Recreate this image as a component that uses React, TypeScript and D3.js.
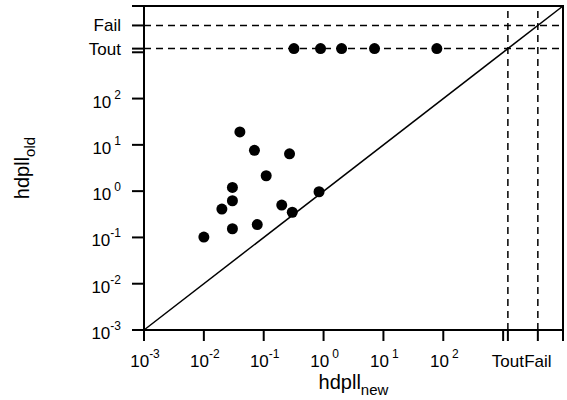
import React, { useEffect, useRef } from 'react';
import * as d3 from 'd3';

// decades shown with a label on both axes
const exps = [-3, -2, -1, 0, 1, 2];
const TOUT = 1200;
const FAIL = 3800;

// solved instances (new vs old)
const hdpllNew = [0.040, 0.070, 0.27, 0.11, 0.030, 0.030, 0.020, 0.20, 0.30, 0.84, 0.078, 0.030, 0.010];
const hdpllOld = [19, 7.6, 6.4, 2.15, 1.2, 0.62, 0.41, 0.50, 0.35, 0.97, 0.19, 0.154, 0.102];
// old timed out, new solved
const timeoutNew = [0.32, 0.89, 2.0, 7.1, 78];

const App = () => {
  const svgRef = useRef(null);

  useEffect(() => {
    const font = 'Liberation Sans, Arial, Helvetica, sans-serif';
    const svg = d3.select(svgRef.current);
    svg.selectAll('*').remove();
    svg.attr('width', 567).attr('height', 400).style('font-family', font);

    const x = d3.scaleLog().domain([1e-3, 1e4]).range([144, 563]);
    const y = d3.scaleLog().domain([1e-3, 1e4]).range([330, 6]);
    const x0 = x(1e-3), x1 = x(1e4), y0 = y(1e-3), y1 = y(1e4);

    // reference lines
    const dash = '7,5';
    [TOUT, FAIL].forEach(v => {
      svg.append('line').attr('x1', x0).attr('x2', x1).attr('y1', y(v)).attr('y2', y(v))
        .attr('stroke', '#000').attr('stroke-width', 1.5).attr('stroke-dasharray', dash);
      svg.append('line').attr('x1', x(v)).attr('x2', x(v)).attr('y1', y0).attr('y2', y1)
        .attr('stroke', '#000').attr('stroke-width', 1.5).attr('stroke-dasharray', dash);
    });

    svg.append('line').attr('x1', x(1e-3)).attr('y1', y(1e-3)).attr('x2', x(1e4)).attr('y2', y(1e4))
      .attr('stroke', '#000').attr('stroke-width', 1.5);

    // frame
    svg.append('rect').attr('x', x0).attr('y', y1).attr('width', x1 - x0).attr('height', y0 - y1)
      .attr('fill', 'none').attr('stroke', '#000').attr('stroke-width', 2);

    // ticks
    const tickVals = [...exps.map(e => Math.pow(10, e)), 1e3, TOUT, FAIL, 1e4];
    tickVals.forEach(v => {
      svg.append('line').attr('x1', x0 - 12).attr('x2', x0).attr('y1', y(v)).attr('y2', y(v))
        .attr('stroke', '#000').attr('stroke-width', 2);
      svg.append('line').attr('x1', x(v)).attr('x2', x(v)).attr('y1', y0).attr('y2', y0 + 11)
        .attr('stroke', '#000').attr('stroke-width', 2);
    });

    // tick labels
    const power = (t, e) => {
      t.append('tspan').text('10');
      t.append('tspan').attr('font-size', 12).attr('dy', -9).attr('dx', e >= 0 ? 3 : 0).text(`${e}`);
    };
    exps.forEach(e => {
      const ty = svg.append('text').attr('x', 121).attr('y', y(Math.pow(10, e)) + 9)
        .attr('text-anchor', 'end').attr('font-size', 17);
      power(ty, e);
      const tx = svg.append('text').attr('x', x(Math.pow(10, e)) + 1).attr('y', 367)
        .attr('text-anchor', 'middle').attr('font-size', 17);
      power(tx, e);
    });
    [[TOUT, 'Tout'], [FAIL, 'Fail']].forEach(([v, name]) => {
      svg.append('text').attr('x', 121).attr('y', y(v) + 6).attr('text-anchor', 'end')
        .attr('font-size', 17).text(name);
      svg.append('text').attr('x', x(v)).attr('y', 367).attr('text-anchor', 'middle')
        .attr('font-size', 17).text(name);
    });

    // axis titles
    const xt = svg.append('text').attr('x', 353.5).attr('y', 389).attr('text-anchor', 'middle').attr('font-size', 20);
    xt.append('tspan').text('hdpll');
    xt.append('tspan').attr('font-size', 15).attr('dy', 6).text('new');
    const yt = svg.append('text').attr('transform', 'translate(29,168) rotate(-90)')
      .attr('text-anchor', 'middle').attr('font-size', 20);
    yt.append('tspan').text('hdpll');
    yt.append('tspan').attr('font-size', 15).attr('dy', 6).text('old');

    // points
    svg.selectAll('circle.solved').data(hdpllNew).enter().append('circle')
      .attr('class', 'solved')
      .attr('cx', d => x(d)).attr('cy', (d, i) => y(hdpllOld[i])).attr('r', 5.5).attr('fill', '#000');
    svg.selectAll('circle.tout').data(timeoutNew).enter().append('circle')
      .attr('class', 'tout')
      .attr('cx', d => x(d)).attr('cy', y(TOUT)).attr('r', 5.5).attr('fill', '#000');
  }, []);

  return (
    <div>
      <svg ref={svgRef} style={{ position: 'absolute', left: 0, top: 0 }}></svg>
    </div>
  );
};

export default App;
